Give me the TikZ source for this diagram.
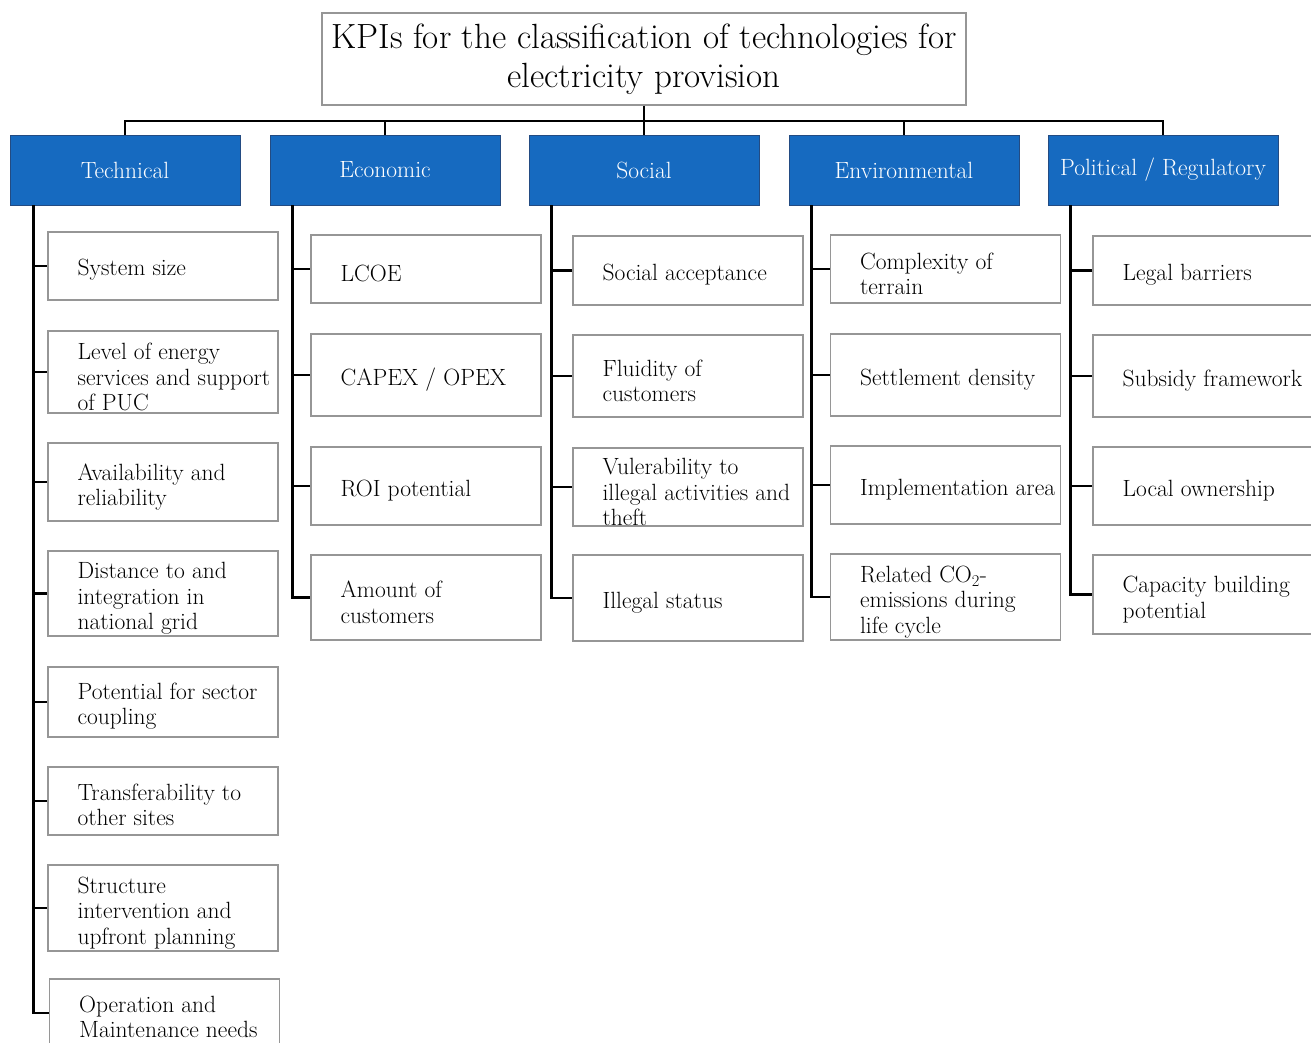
\documentclass[tikz,border=0pt]{standalone}
\usetikzlibrary{positioning,calc}
\definecolor{catblue}{RGB}{22,106,192}
\definecolor{catedge}{RGB}{35,75,130}
\definecolor{boxgray}{RGB}{150,150,150}
\tikzset{
  titlebox/.style={draw=boxgray,line width=1.2pt,minimum width=644pt,minimum height=92pt,
    align=center,inner sep=0pt,font=\fontsize{35}{39}\selectfont},
  catbox/.style={fill=catblue,draw=catedge,line width=0.8pt,minimum width=230pt,minimum height=70pt,
    inner sep=0pt,text=white,font=\fontsize{23.5}{25}\selectfont},
  kpibox/.style={draw=boxgray,line width=1.2pt,minimum width=230pt,inner sep=0pt},
  kpitext/.style={anchor=west,align=left,inner sep=0pt,font=\fontsize{23.5}{25.5}\selectfont},
  conn/.style={line width=2.9pt,line join=miter}
}

\begin{document}
\begin{tikzpicture}[x=1pt,y=-1pt]
  \path[use as bounding box,fill=white] (0,0) rectangle (1311,1042);

  % title and categories
  \node[titlebox] (title) at (644,59) {KPIs for the classification of technologies for\\electricity provision};
  \node[catbox] (tech) at (125,170) {Technical};
  \node[catbox] (eco) at (385,170) {Economic};
  \node[catbox] (soc) at (644,170) {Social};
  \node[catbox] (env) at (904,170) {Environmental};
  \node[catbox] (pol) at (1163,170) {Political / Regulatory};

  \coordinate (bar) at (644,121);
  \draw[conn] (title.south) -- (soc.north);
  \draw[conn] (tech.north) |- (bar) -| (pol.north);
  \draw[conn] (eco.north) -- (eco.north |- bar);
  \draw[conn] (env.north) -- (env.north |- bar);

  % technical
  \node[kpibox,minimum height=68pt] (t1) at (163,266) {};
  \node[kpibox,minimum height=82pt] (t2) at (163,372) {};
  \node[kpibox,minimum height=78pt] (t3) at (163,482) {};
  \node[kpibox,minimum height=85pt] (t4) at (163,593.5) {};
  \node[kpibox,minimum height=70pt] (t5) at (163,702) {};
  \node[kpibox,minimum height=68pt] (t6) at (163,801) {};
  \node[kpibox,minimum height=86pt] (t7) at (163,908) {};
  \node[kpibox,minimum height=68pt] (t8) at (164.5,1013) {};
  \node[kpitext] (t1txt) at ($(t1.west)+(30,4)$) {System size};
  \node[kpitext] (t2txt) at ($(t2.west)+(30,5)$) {Level of energy\\services and support\\of PUC};
  \node[kpitext] (t3txt) at ($(t3.west)+(30,5)$) {Availability and\\reliability};
  \node[kpitext] (t4txt) at ($(t4.west)+(30,5)$) {Distance to and\\integration in\\national grid};
  \node[kpitext] (t5txt) at ($(t5.west)+(30,4)$) {Potential for sector\\coupling};
  \node[kpitext] (t6txt) at ($(t6.west)+(30,4)$) {Transferability to\\other sites};
  \node[kpitext] (t7txt) at ($(t7.west)+(30,5)$) {Structure\\intervention and\\upfront planning};
  \node[kpitext] (t8txt) at ($(t8.west)+(30,4)$) {Operation and\\Maintenance needs};

  \coordinate (techsp) at ([xshift=24pt]tech.south west);
  \draw[conn] (techsp) |- (t8.west);
  \draw[conn] (techsp |- t1.west) -- (t1.west);
  \draw[conn] (techsp |- t2.west) -- (t2.west);
  \draw[conn] (techsp |- t3.west) -- (t3.west);
  \draw[conn] (techsp |- t4.west) -- (t4.west);
  \draw[conn] (techsp |- t5.west) -- (t5.west);
  \draw[conn] (techsp |- t6.west) -- (t6.west);
  \draw[conn] (techsp |- t7.west) -- (t7.west);

  % economic
  \node[kpibox,minimum height=68pt] (e1) at (426,269) {};
  \node[kpibox,minimum height=82pt] (e2) at (426,375) {};
  \node[kpibox,minimum height=78pt] (e3) at (426,486) {};
  \node[kpibox,minimum height=85pt] (e4) at (426,597.5) {};
  \node[kpitext] (e1txt) at ($(e1.west)+(30,4)$) {LCOE};
  \node[kpitext] (e2txt) at ($(e2.west)+(30,5)$) {CAPEX / OPEX};
  \node[kpitext] (e3txt) at ($(e3.west)+(30,5)$) {ROI potential};
  \node[kpitext] (e4txt) at ($(e4.west)+(30,5)$) {Amount of\\customers};

  \coordinate (ecosp) at ([xshift=23pt]eco.south west);
  \draw[conn] (ecosp) |- (e4.west);
  \draw[conn] (ecosp |- e1.west) -- (e1.west);
  \draw[conn] (ecosp |- e2.west) -- (e2.west);
  \draw[conn] (ecosp |- e3.west) -- (e3.west);

  % social
  \node[kpibox,minimum height=69pt] (s1) at (688,270.5) {};
  \node[kpibox,minimum height=82pt] (s2) at (688,376) {};
  \node[kpibox,minimum height=78pt] (s3) at (688,487) {};
  \node[kpibox,minimum height=86pt] (s4) at (688,598) {};
  \node[kpitext] (s1txt) at ($(s1.west)+(30,4)$) {Social acceptance};
  \node[kpitext] (s2txt) at ($(s2.west)+(30,5)$) {Fluidity of\\customers};
  \node[kpitext] (s3txt) at ($(s3.west)+(30,5)$) {Vulerability to\\illegal activities and\\theft};
  \node[kpitext] (s4txt) at ($(s4.west)+(30,5)$) {Illegal status};

  \coordinate (socsp) at ([xshift=23pt]soc.south west);
  \draw[conn] (socsp) |- (s4.west);
  \draw[conn] (socsp |- s1.west) -- (s1.west);
  \draw[conn] (socsp |- s2.west) -- (s2.west);
  \draw[conn] (socsp |- s3.west) -- (s3.west);

  % environmental
  \node[kpibox,minimum height=68pt] (v1) at (945.5,269) {};
  \node[kpibox,minimum height=82pt] (v2) at (945.5,375) {};
  \node[kpibox,minimum height=78pt] (v3) at (945.5,485) {};
  \node[kpibox,minimum height=86pt] (v4) at (945.5,597) {};
  \node[kpitext] (v1txt) at ($(v1.west)+(30,5)$) {Complexity of\\terrain};
  \node[kpitext] (v2txt) at ($(v2.west)+(30,5)$) {Settlement density};
  \node[kpitext] (v3txt) at ($(v3.west)+(30,5)$) {Implementation area};
  \node[kpitext] (v4txt) at ($(v4.west)+(30,5)$) {Related CO\textsubscript{2}-\\emissions during\\life cycle};

  \coordinate (envsp) at ([xshift=23pt]env.south west);
  \draw[conn] (envsp) |- (v4.west);
  \draw[conn] (envsp |- v1.west) -- (v1.west);
  \draw[conn] (envsp |- v2.west) -- (v2.west);
  \draw[conn] (envsp |- v3.west) -- (v3.west);

  % political / regulatory
  \node[kpibox,minimum height=69pt] (p1) at (1208,270.5) {};
  \node[kpibox,minimum height=82pt] (p2) at (1208,376) {};
  \node[kpibox,minimum height=78pt] (p3) at (1208,486) {};
  \node[kpibox,minimum height=79pt] (p4) at (1208,594.5) {};
  \node[kpitext] (p1txt) at ($(p1.west)+(30,4)$) {Legal barriers};
  \node[kpitext] (p2txt) at ($(p2.west)+(30,5)$) {Subsidy framework};
  \node[kpitext] (p3txt) at ($(p3.west)+(30,5)$) {Local ownership};
  \node[kpitext] (p4txt) at ($(p4.west)+(30,5)$) {Capacity building\\potential};

  \coordinate (polsp) at ([xshift=23pt]pol.south west);
  \draw[conn] (polsp) |- (p4.west);
  \draw[conn] (polsp |- p1.west) -- (p1.west);
  \draw[conn] (polsp |- p2.west) -- (p2.west);
  \draw[conn] (polsp |- p3.west) -- (p3.west);
\end{tikzpicture}
\end{document}
